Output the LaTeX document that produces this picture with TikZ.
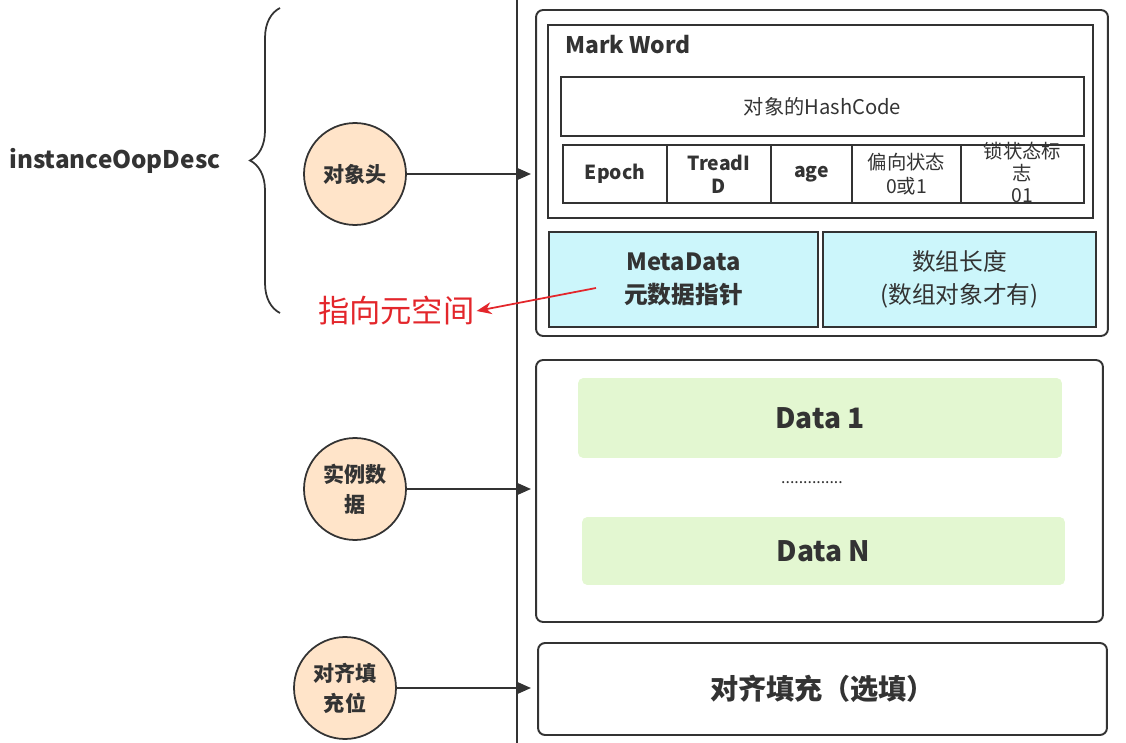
\documentclass[tikz,border=0pt]{standalone}
\usepackage{fontspec}
\setmainfont{Noto Sans CJK SC}
\usetikzlibrary{positioning,arrows.meta,decorations.pathreplacing}
\definecolor{jvmtraco}{HTML}{333333}
\definecolor{jvmpessego}{HTML}{FFE4C9}
\definecolor{jvmciano}{HTML}{CCF6FB}
\definecolor{jvmverde}{HTML}{E3F7D1}
\definecolor{jvmvermelho}{HTML}{E3262B}
\newcommand{\jvmfonte}[2]{\fontsize{#1}{#2}\selectfont}
\tikzset{
  jvmcaixa/.style={draw=jvmtraco, line width=1.1pt, rounded corners=4pt, inner sep=0pt, outer sep=0pt,
                  align=center, text=jvmtraco},
  jvmcelula/.style={draw=jvmtraco, line width=1.1pt, inner sep=0pt, outer sep=0pt, align=center,
                  text=jvmtraco, font=\bfseries\jvmfonte{11pt}{13pt}},
  jvmcirculo/.style={circle, draw=jvmtraco, fill=jvmpessego, line width=1pt, minimum size=2.04cm,
                  inner sep=0pt, align=center, text=jvmtraco, font=\bfseries\jvmfonte{12pt}{17pt}},
  jvmdado/.style={fill=jvmverde, rounded corners=3pt, inner sep=0pt, text=jvmtraco,
                  font=\bfseries\jvmfonte{16pt}{18pt}},
  jvmseta/.style={-{Triangle[length=2.6mm,width=2.2mm]}, line width=1.1pt, draw=jvmtraco},
  jvmsetavermelha/.style={-{Stealth[length=3mm,width=2.4mm]}, line width=1pt, draw=jvmvermelho},
}
\begin{document}
\begin{tikzpicture}[x=0.02cm, y=-0.02cm,
        cel/.style={jvmcelula, minimum height=1.16cm},
        azul/.style={jvmcelula, fill=jvmciano, minimum height=1.9cm, font=\bfseries\jvmfonte{13.5pt}{19pt}}
    ]
        \useasboundingbox (0,0) rectangle (1126,743);
        % eixo vertical
        \draw[jvmtraco, line width=1.1pt] (517,0) -- (517,743);
        % nome e chaveta
        \node[font=\bfseries\jvmfonte{13.8pt}{16pt}, text=jvmtraco, anchor=west, inner sep=0pt] (desc) at (9,161) {instanceOopDesc};
        \draw[jvmtraco, line width=1pt, decorate, decoration={brace, amplitude=0.6cm}] (280,313) -- (280,8);
        % circulos
        \node[jvmcirculo] (cabeca) at (355,174) {对象头};
        \node[jvmcirculo] (inst) at (355,489) {实例数\\据};
        \node[jvmcirculo] (alin) at (345,688) {对齐填\\充位};
        \coordinate (e1) at (531,174);
        \coordinate (e2) at (531,489);
        \coordinate (e3) at (531,688);
        \draw[jvmseta] (cabeca) -- (e1);
        \draw[jvmseta] (inst) -- (e2);
        \draw[jvmseta] (alin) -- (e3);
        % cabecalho do objeto
        \node[jvmcaixa, minimum width=11.44cm, minimum height=6.52cm] (cab) at (822,173) {};
        \node[jvmcelula, minimum width=10.9cm, minimum height=3.86cm] (mw) at (820.5,121.5) {};
        \node[anchor=west, inner sep=0pt, text=jvmtraco, font=\bfseries\jvmfonte{13pt}{15pt}] (mwrot) at (565,45) {Mark Word};
        \node[jvmcelula, minimum width=10.46cm, minimum height=1.18cm, font=\jvmfonte{11.5pt}{13pt}] (hash) at (822.5,106.5) {对象的HashCode};
        \node[cel, minimum width=2.08cm] (epoch) at (615,174) {Epoch};
        \node[cel, minimum width=2.08cm] (tid) at (719,174) {TreadI\\D};
        \node[cel, minimum width=1.62cm] (age) at (811.5,174) {age};
        \node[cel, minimum width=2.18cm, font=\jvmfonte{11pt}{14pt}] (vies) at (906.5,174) {偏向状态\\0或1};
        \node[cel, minimum width=2.46cm] (trava) at (1022.5,174) {};
        \node[align=center, inner sep=0pt, text=jvmtraco, font=\jvmfonte{11pt}{12.5pt}] (travatxt) at (1022.5,172) {锁状态标\\志\\01};
        \node[azul, minimum width=5.38cm] (meta) at (683.5,279.5) {MetaData\\元数据指针};
        \node[azul, minimum width=5.46cm, font=\jvmfonte{13.5pt}{19pt}] (len) at (959.5,279.5) {数组长度\\(数组对象才有)};
        % dados da instancia
        \node[jvmcaixa, minimum width=11.34cm, minimum height=5.24cm] (dados) at (819.5,491) {};
        \node[jvmdado, minimum width=9.68cm, minimum height=1.6cm] (d1) at (820,418) {Data 1};
        \node[text=jvmtraco, inner sep=0pt, font=\jvmfonte{9pt}{10pt}] (pontos) at (812,483) {..............};
        \node[jvmdado, minimum width=9.66cm, minimum height=1.36cm] (dn) at (823.5,551) {Data N};
        % preenchimento
        \node[jvmcaixa, minimum width=11.38cm, minimum height=1.84cm, font=\bfseries\jvmfonte{16pt}{18pt}] (pad) at (822.5,689) {对齐填充（选填）};
        % ponteiro para o metaspace
        \node[text=jvmvermelho, font=\jvmfonte{17.8pt}{20pt}, anchor=west, inner sep=1pt] (metaesp) at (316,311) {指向元空间};
        \coordinate (pm) at (596,288);
        \draw[jvmsetavermelha] (pm) -- (metaesp.east);
    \end{tikzpicture}
\end{document}
